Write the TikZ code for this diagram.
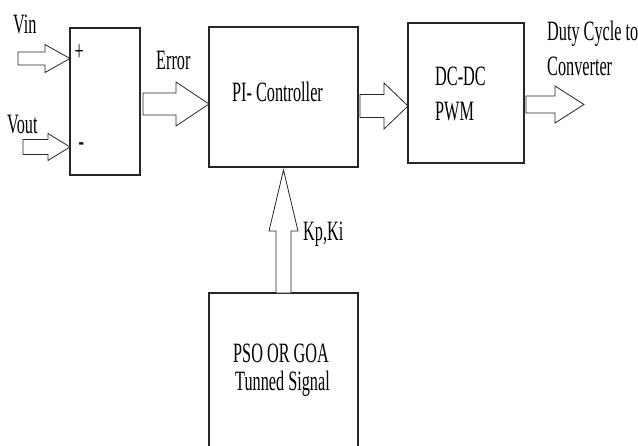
\documentclass[tikz,border=0pt]{standalone}
\usepackage{fontspec}
\setmainfont{Liberation Serif}
\usetikzlibrary{calc}
\usetikzlibrary{positioning}

% narrow text, the picture sets it condensed
\newcommand{\nar}[1]{\scalebox{0.58}[1]{#1}}
% block arrow: tail, tip, half shaft, half head, head length
\newcommand{\fatarrow}[5]{%
  \coordinate (fah) at ($(#2)!#5!(#1)$);
  \draw[fat] ($(#1)!#3!90:(#2)$) -- ($(fah)!#3!90:(#2)$) -- ($(fah)!#4!90:(#2)$) -- (#2)
    -- ($(fah)!#4!-90:(#2)$) -- ($(fah)!#3!-90:(#2)$) -- ($(#1)!#3!-90:(#2)$) -- cycle;}

\begin{document}
\begin{tikzpicture}[x=1pt,y=-1pt,
  box/.style={draw=black!85,line width=1.3pt,inner sep=0pt,outer sep=0pt},
  fat/.style={draw=black!85,line width=0.8pt,fill=white,line join=miter},
  lbl/.style={inner sep=0pt,anchor=base west,font=\fontsize{28}{35}\selectfont}]
  \useasboundingbox (0,0) rectangle (638,445);
  \clip (0,0) rectangle (638,445);
  % blocks
  \node[box,minimum width=70pt,minimum height=147pt](sum) at (105,101.5) {};
  \node[box,minimum width=149pt,minimum height=140pt](pi) at (283.5,97) {};
  \node[box,minimum width=116pt,minimum height=140pt](dc) at (466,93) {};
  \node[box,below=126pt of pi,minimum width=149pt,minimum height=157pt](pso) {};
  % texts
  \node[lbl](plus) at (74.5,60) {\nar{+}};
  \node[lbl](minus) at (78.5,150) {\nar{\textbf{-}}};
  \node[lbl](pitext) at (232,101) {\nar{PI- Controller}};
  \node[lbl](dctext) at (435,85) {\nar{DC-DC}};
  \node[lbl](pwmtext) at (435,120) {\nar{PWM}};
  \node[lbl](psotext) at (233,362) {\nar{PSO OR GOA}};
  \node[lbl](tuntext) at (235,390) {\nar{Tunned Signal}};
  \node[lbl](vinl) at (13,33) {\nar{Vin}};
  \node[lbl](voutl) at (7,133) {\nar{Vout}};
  \node[lbl](errl) at (156,69) {\nar{Error}};
  \node[lbl](kpl) at (303,240) {\nar{Kp,Ki}};
  \node[lbl](dutyl) at (547,40) {\nar{Duty Cycle to}};
  \node[lbl](convl) at (547,75) {\nar{Converter}};
  % arrows
  \coordinate (vin) at (18,58.5);
  \coordinate (vintip) at (sum.west |- vin);
  \fatarrow{vin}{vintip}{6.5pt}{14pt}{25pt}
  \coordinate (vout) at (23,147);
  \coordinate (vouttip) at (sum.west |- vout);
  \fatarrow{vout}{vouttip}{7.5pt}{13.5pt}{22pt}
  \coordinate (err) at ($(sum.east)+(3,2.5)$);
  \coordinate (errtip) at (pi.west |- err);
  \fatarrow{err}{errtip}{11pt}{22pt}{33pt}
  \coordinate (ctl) at ($(pi.east)+(2,9)$);
  \coordinate (ctltip) at (dc.west |- ctl);
  \fatarrow{ctl}{ctltip}{11.5pt}{23pt}{24pt}
  \coordinate (duty) at ($(dc.east)+(2,11.5)$);
  \coordinate (dutytip) at (584,104.5);
  \fatarrow{duty}{dutytip}{8.5pt}{18.5pt}{29pt}
  \coordinate (kptip) at ($(pi.south)+(0,3)$);
  \fatarrow{pso.north}{kptip}{7.5pt}{14.5pt}{61pt}
\end{tikzpicture}
\end{document}
